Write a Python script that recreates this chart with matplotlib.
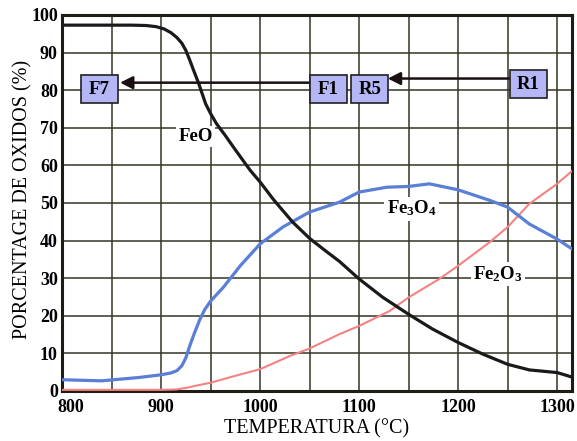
import matplotlib
matplotlib.use("Agg")
import matplotlib.pyplot as plt
from matplotlib.patches import Rectangle

plt.rcParams['font.family'] = ['Liberation Serif', 'DejaVu Serif']
plt.rcParams['mathtext.fontset'] = 'custom'
plt.rcParams['mathtext.rm'] = 'Liberation Serif:bold'
plt.rcParams['mathtext.it'] = 'Liberation Serif:bold'
plt.rcParams['mathtext.bf'] = 'Liberation Serif:bold'
plt.rcParams['mathtext.default'] = 'rm'

# ---- data ----
feo_T = [800, 870, 885, 895, 903, 910, 916, 921, 925, 929, 933, 938, 945, 950, 956, 965,
         973, 982, 990, 1000, 1013, 1020, 1033, 1050, 1065, 1080, 1100, 1124, 1150,
         1174, 1200, 1225, 1250, 1272, 1300, 1315]
feo = [97.3, 97.3, 97.2, 96.9, 96.3, 95.3, 94.0, 92.5, 90.6, 88.0, 85.2, 81.8, 76.4,
       73.8, 71.1, 67.9, 64.9, 61.6, 58.7, 55.6, 51.1, 48.9, 44.9, 40.6, 37.5, 34.5,
       29.8, 24.9, 20.4, 16.5, 12.9, 9.8, 7.1, 5.6, 4.9, 3.7]

fe3o4_T = [800, 840, 878, 900, 910, 916, 921, 925, 929, 934, 939, 944, 950, 963, 980,
           1000, 1023, 1050, 1080, 1100, 1128, 1150, 1171, 1200, 1232, 1250, 1272,
           1300, 1315]
fe3o4 = [3.0, 2.7, 3.6, 4.3, 4.8, 5.4, 6.7, 8.8, 12.0, 15.6, 18.9, 21.6, 23.9, 27.6,
         33.3, 39.1, 43.6, 47.6, 50.2, 52.9, 54.2, 54.4, 55.1, 53.5, 50.7, 48.9, 44.4,
         40.4, 37.8]

fe2o3_T = [800, 900, 915, 925, 935, 950, 980, 1000, 1030, 1050, 1080, 1100, 1131,
           1150, 1181, 1200, 1232, 1250, 1272, 1300, 1315]
fe2o3 = [0.3, 0.3, 0.4, 0.8, 1.4, 2.2, 4.4, 5.8, 9.3, 11.3, 15.1, 17.3, 21.3, 24.9,
         29.8, 33.3, 39.6, 43.6, 49.8, 55.1, 58.5]

x_ticks = [800, 900, 1000, 1100, 1200, 1300]
x_ticklabels = ['800', '900', '1000', '1100', '1200', '1300']
y_ticks = [0, 10, 20, 30, 40, 50, 60, 70, 80, 90, 100]
series_labels = ['FeO', r'Fe$_3$O$_4$', r'Fe$_2$O$_3$']
box_labels = ['F7', 'F1', 'R5', 'R1']

# ---- figure ----
fig = plt.figure(figsize=(5.77, 4.41), dpi=100)
ax = fig.add_axes([0.1075, 0.1134, 0.8838, 0.8526])
ax.set_xlim(800, 1315)
ax.set_ylim(0, 100)

grid_c = '#363424'
ax.set_xticks(range(850, 1301, 50), minor=True)
ax.set_xticks(x_ticks)
# first label drawn separately (shifted right, as in the reference)
ax.set_xticklabels([''] + x_ticklabels[1:])
ax.set_yticks(y_ticks)
ax.grid(True, which='both', color=grid_c, linewidth=1.1, zorder=0)
ax.set_axisbelow(True)
ax.tick_params(which='both', length=0)
ax.tick_params(axis='y', pad=3)
ax.tick_params(axis='x', pad=6)
for lab in ax.get_xticklabels() + ax.get_yticklabels():
    lab.set_fontsize(13)
    lab.set_fontweight('bold')
ax.annotate(x_ticklabels[0], xy=(x_ticks[0], 0), xycoords=('data', 'axes fraction'),
            xytext=(6, -6), textcoords='offset points', ha='center', va='top',
            fontsize=13, fontweight='bold')
for s in ax.spines.values():
    s.set_linewidth(2.2)
    s.set_color('#1e1c14')

ax.plot(fe2o3_T, fe2o3, color='#f58282', lw=1.5, zorder=3)
ax.plot(fe3o4_T, fe3o4, color='#5a7fd6', lw=2.3, zorder=3)
ax.plot(feo_T, feo, color='#1a1a1a', lw=2.3, zorder=4)

ax.set_xlabel('TEMPERATURA (°C)', fontsize=14.5, labelpad=2)
ax.set_ylabel('PORCENTAGE DE OXIDOS (%)', fontsize=14.5)
ax.yaxis.set_label_coords(-0.058, 0.51)

# series labels
lab_pos = [(935, 67.7), (1153, 48.5), (1240, 31.2)]
for t, (x, y) in zip(series_labels, lab_pos):
    ax.text(x, y, t, fontsize=13.5, fontweight='bold', ha='center', va='center', zorder=5,
            bbox=dict(boxstyle='square,pad=0.12', fc='white', ec='none'))

# arrows
ax.annotate('', xy=(858.6, 82.0), xytext=(1050.5, 82.0),
            arrowprops=dict(arrowstyle='-|>,head_length=0.75,head_width=0.38',
                            color='#1a1010', lw=1.8, shrinkA=0, shrinkB=0), zorder=6)
ax.annotate('', xy=(1129, 83.1), xytext=(1252.5, 83.1),
            arrowprops=dict(arrowstyle='-|>,head_length=0.75,head_width=0.38',
                            color='#1a1010', lw=1.8, shrinkA=0, shrinkB=0), zorder=6)

# boxes
box_pos = [(838, 80.3), (1069, 80.3), (1111, 80.3), (1271, 81.6)]
bw, bh = 37.4, 7.4
for t, (x, y) in zip(box_labels, box_pos):
    ax.add_patch(Rectangle((x - bw / 2, y - bh / 2), bw, bh, fc='#b4b6f6', ec='#202020',
                           lw=1.2, zorder=7))
    ax.text(x, y, t, fontsize=13.5, fontweight='bold', ha='center', va='center', zorder=8)

fig.savefig('out.png', dpi=100)
